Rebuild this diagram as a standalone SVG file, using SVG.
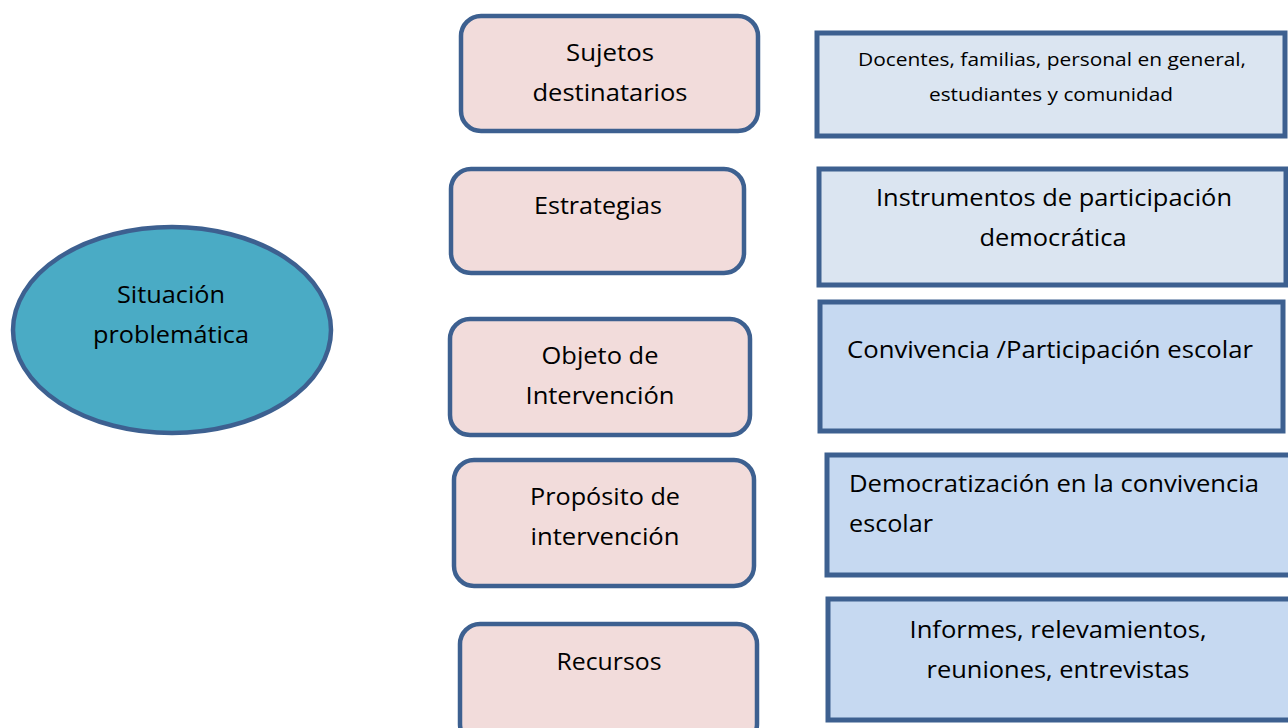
<svg xmlns="http://www.w3.org/2000/svg" width="1288" height="728" viewBox="0 0 1288 728">
<style>
.pink{fill:#f2dcdb;stroke:#3d6090;stroke-width:4.5}
.lb{fill:#dbe5f1;stroke:#3d6090;stroke-width:5}
.mb{fill:#c6d9f1;stroke:#3d6090;stroke-width:5}
.ell{fill:#4aabc5;stroke:#3d6090;stroke-width:4.5}
text{font-family:"Open Sans","Noto Sans","Liberation Sans",sans-serif;font-size:24px;fill:#000}
.c{text-anchor:middle}
.s{font-size:19px}
</style>
<rect width="1288" height="728" fill="#fff"/>
<g id="connectors"></g>
<g id="situacion">
<ellipse class="ell" cx="172" cy="330" rx="159" ry="103"/>
<text class="c" x="171" y="303" textLength="108" lengthAdjust="spacingAndGlyphs">Situación</text>
<text class="c" x="171" y="343" textLength="156" lengthAdjust="spacingAndGlyphs">problemática</text>
</g>
<g id="sujetos">
<rect class="pink" x="461" y="16" width="297" height="115" rx="20"/>
<text class="c" x="610" y="61" textLength="88" lengthAdjust="spacingAndGlyphs">Sujetos</text>
<text class="c" x="610" y="101" textLength="155" lengthAdjust="spacingAndGlyphs">destinatarios</text>
</g>
<g id="estrategias">
<rect class="pink" x="451" y="169" width="293" height="104" rx="20"/>
<text class="c" x="598" y="214" textLength="128" lengthAdjust="spacingAndGlyphs">Estrategias</text>
</g>
<g id="objeto">
<rect class="pink" x="450" y="319" width="300" height="116" rx="20"/>
<text class="c" x="600" y="364" textLength="117" lengthAdjust="spacingAndGlyphs">Objeto de</text>
<text class="c" x="600" y="404" textLength="149" lengthAdjust="spacingAndGlyphs">Intervención</text>
</g>
<g id="proposito">
<rect class="pink" x="454" y="460" width="300" height="126" rx="20"/>
<text class="c" x="605" y="505" textLength="150" lengthAdjust="spacingAndGlyphs">Propósito de</text>
<text class="c" x="605" y="545" textLength="149" lengthAdjust="spacingAndGlyphs">intervención</text>
</g>
<g id="recursos">
<rect class="pink" x="460" y="624" width="297" height="120" rx="20"/>
<text class="c" x="609" y="670" textLength="105" lengthAdjust="spacingAndGlyphs">Recursos</text>
</g>
<g id="docentes">
<rect class="lb" x="817" y="33" width="468" height="103"/>
<text class="c s" x="1052" y="66" textLength="388" lengthAdjust="spacingAndGlyphs">Docentes, familias, personal en general,</text>
<text class="c s" x="1051" y="101" textLength="244" lengthAdjust="spacingAndGlyphs">estudiantes y comunidad</text>
</g>
<g id="instrumentos">
<rect class="lb" x="819" y="169" width="467" height="116"/>
<text class="c" x="1054" y="206" textLength="356" lengthAdjust="spacingAndGlyphs">Instrumentos de participación</text>
<text class="c" x="1053" y="246" textLength="147" lengthAdjust="spacingAndGlyphs">democrática</text>
</g>
<g id="convivencia">
<rect class="mb" x="820" y="302" width="463" height="129"/>
<text x="847" y="358" textLength="406" lengthAdjust="spacingAndGlyphs">Convivencia /Participación escolar</text>
</g>
<g id="democratizacion">
<rect class="mb" x="827" y="455" width="470" height="120"/>
<text x="849" y="492" textLength="410" lengthAdjust="spacingAndGlyphs">Democratización en la convivencia</text>
<text x="849" y="532" textLength="84" lengthAdjust="spacingAndGlyphs">escolar</text>
</g>
<g id="informes">
<rect class="mb" x="828" y="599" width="470" height="121"/>
<text class="c" x="1058" y="638" textLength="297" lengthAdjust="spacingAndGlyphs">Informes, relevamientos,</text>
<text class="c" x="1058" y="678" textLength="263" lengthAdjust="spacingAndGlyphs">reuniones, entrevistas</text>
</g>
</svg>
